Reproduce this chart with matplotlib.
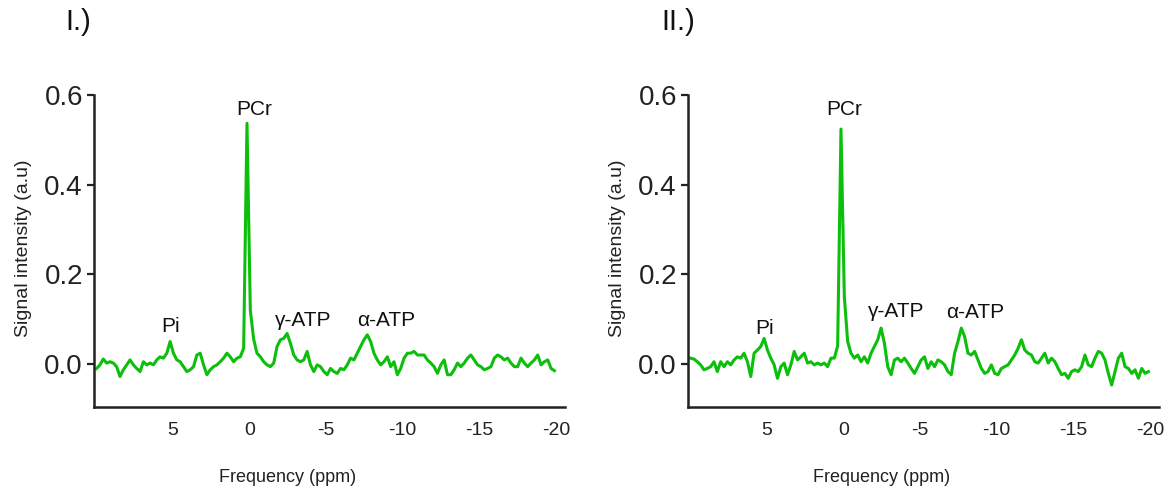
import numpy as np
import matplotlib.pyplot as plt

plt.rcParams['font.family'] = ['Liberation Sans', 'DejaVu Sans']

# 31P spectra, uniformly sampled from ~10 to ~-20 ppm
spec_I = [
    -0.010, -0.002, 0.011, 0.002, 0.005, 0.002, -0.006, -0.028, -0.013, -0.002,
    0.009, -0.002, -0.010, -0.017, 0.005, -0.002, 0.002, -0.002, 0.009, 0.016,
    0.013, 0.024, 0.050, 0.024, 0.009, 0.005, -0.006, -0.017, -0.013, -0.006,
    0.020, 0.024, -0.002, -0.024, -0.013, -0.006, -0.002, 0.005, 0.013, 0.024,
    0.016, 0.005, 0.013, 0.016, 0.035, 0.537, 0.120, 0.055, 0.024, 0.016,
    0.005, -0.002, -0.006, 0.002, 0.039, 0.054, 0.057, 0.068, 0.046, 0.020,
    0.009, 0.005, 0.009, 0.028, -0.002, -0.017, -0.002, -0.006, -0.017, -0.024,
    -0.010, -0.017, -0.021, -0.010, -0.013, -0.002, 0.013, 0.009, 0.024, 0.039,
    0.054, 0.065, 0.050, 0.024, 0.009, -0.002, 0.005, 0.016, -0.006, 0.005,
    -0.024, -0.010, 0.013, 0.024, 0.024, 0.028, 0.020, 0.020, 0.020, 0.009,
    0.002, -0.006, -0.021, -0.002, 0.009, -0.024, -0.024, -0.013, 0.002, -0.006,
    0.002, 0.013, 0.020, 0.009, -0.002, -0.006, -0.013, -0.010, -0.006, 0.013,
    0.020, 0.016, 0.009, 0.013, 0.002, -0.006, -0.006, 0.013, 0.002, -0.006,
    0.002, 0.009, 0.020, -0.002, 0.005, 0.009, -0.010, -0.015,
]
spec_II = [
    0.013, 0.011, 0.005, -0.002, -0.013, -0.010, -0.006, 0.005, -0.017, 0.005,
    -0.006, 0.005, -0.002, 0.009, 0.016, 0.013, 0.024, 0.005, -0.028, 0.024,
    0.031, 0.039, 0.057, 0.031, 0.013, -0.002, -0.032, -0.006, 0.002, -0.024,
    -0.002, 0.028, 0.009, 0.016, 0.024, 0.002, 0.005, -0.002, 0.002, -0.002,
    0.002, -0.006, 0.013, 0.013, 0.040, 0.524, 0.150, 0.050, 0.024, 0.013,
    0.020, 0.005, 0.016, 0.002, 0.024, 0.039, 0.054, 0.080, 0.046, -0.006,
    -0.024, 0.009, 0.013, 0.005, 0.013, 0.002, -0.010, -0.021, -0.006, 0.009,
    0.016, -0.010, 0.005, -0.006, 0.009, 0.005, -0.002, -0.017, -0.024, 0.024,
    0.050, 0.080, 0.061, 0.024, 0.020, 0.028, 0.009, -0.010, -0.021, -0.017,
    -0.002, -0.021, -0.024, -0.010, -0.006, -0.002, 0.009, 0.020, 0.035, 0.054,
    0.031, 0.024, 0.020, 0.005, 0.002, 0.013, 0.024, 0.002, 0.013, 0.005,
    -0.010, -0.024, -0.021, -0.032, -0.017, -0.013, -0.017, -0.006, 0.020, -0.002,
    -0.006, 0.013, 0.028, 0.024, 0.009, -0.021, -0.047, -0.017, 0.013, 0.024,
    -0.006, -0.010, -0.021, -0.013, -0.032, -0.010, -0.021, -0.017,
]
ppm_start, ppm_end = 9.96, -19.91

panel_titles = ['I.)', 'II.)']
peak_names = ['Pi', 'PCr', 'γ-ATP', 'α-ATP']
peak_x = [[5.16, -0.33, -3.53, -8.95], [5.16, -0.07, -3.46, -8.63]]
peak_y = [[0.083, 0.567, 0.096, 0.098], [0.080, 0.567, 0.116, 0.114]]

xticks = [5, 0, -5, -10, -15, -20]
yticks = [0.0, 0.2, 0.4, 0.6]

fig = plt.figure(figsize=(11.64, 4.94), dpi=100)
lefts = [94 / 1164, 688 / 1164]
title_x = [78 / 1164, 678 / 1164]

for i, spec in enumerate([spec_I, spec_II]):
    ax = fig.add_axes([lefts[i], 87 / 494, 471 / 1164, 312 / 494])
    ppm = np.linspace(ppm_start, ppm_end, len(spec))
    ax.plot(ppm, spec, color='#0cbf0c', lw=2.2)

    ax.set_xlim(10.13, -20.6)
    ax.set_ylim(-0.096, 0.6)
    ax.set_xticks(xticks)
    ax.set_xticklabels([str(t) for t in xticks])
    ax.set_yticks(yticks)
    ax.set_yticklabels(['%.1f' % t for t in yticks])
    ax.tick_params(axis='x', length=0, pad=11, labelsize=14, colors='#222222')
    ax.tick_params(axis='y', length=5, width=1.6, pad=3, labelsize=20, colors='#222222')

    for s in ['top', 'right']:
        ax.spines[s].set_visible(False)
    for s in ['left', 'bottom']:
        ax.spines[s].set_linewidth(1.8)
        ax.spines[s].set_color('#222222')

    # x label sits left of the axis centre in the original
    ax.set_xlabel('Frequency (ppm)', fontsize=13, color='#222222')
    ax.xaxis.set_label_coords(0.412, -0.20)
    ax.set_ylabel('Signal intensity (a.u)', fontsize=14, color='#222222')
    ax.yaxis.set_label_coords(-0.132, 0.51)

    for name, x, y in zip(peak_names, peak_x[i], peak_y[i]):
        ax.text(x, y, name, fontsize=15, ha='center', va='center', color='#111111')

    fig.text(title_x[i], 0.955, panel_titles[i], fontsize=21, ha='center', va='center',
             color='#111111')

plt.savefig('out.png', dpi=100)
